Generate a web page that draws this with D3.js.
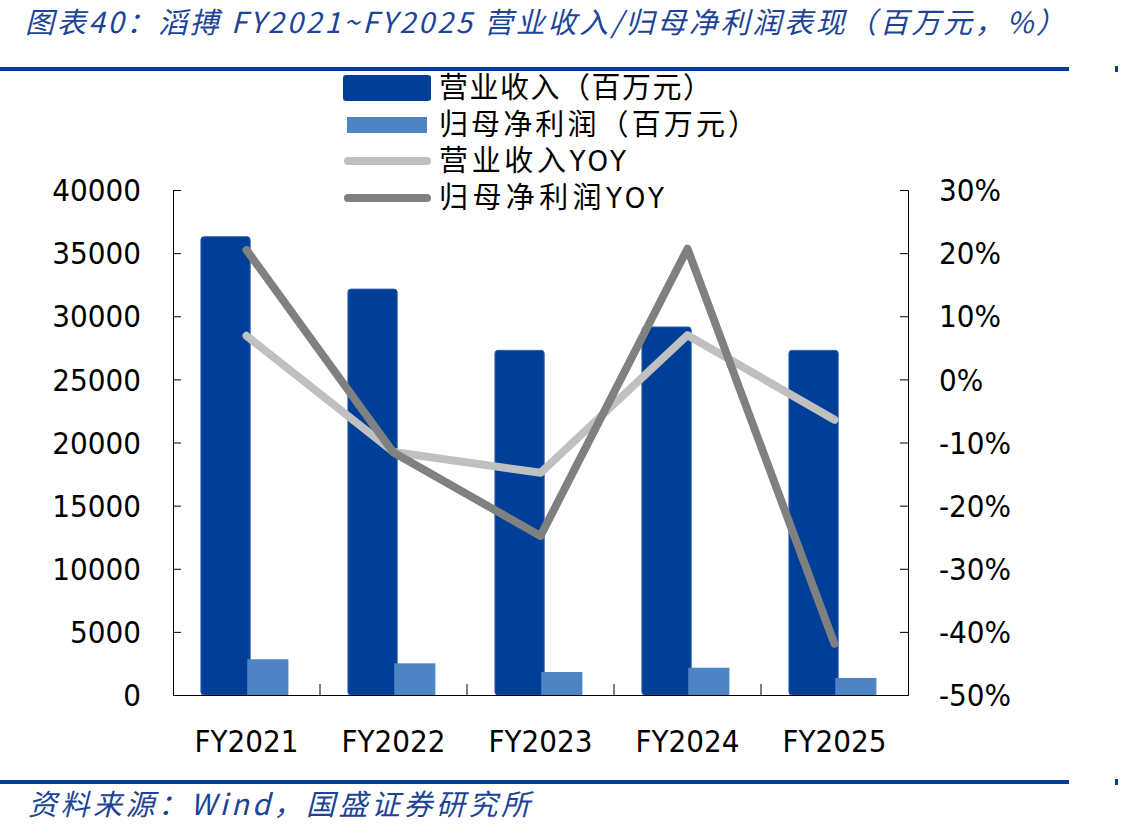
<!DOCTYPE html>
<html>
<head>
<meta charset="utf-8">
<script src="https://cdn.jsdelivr.net/npm/d3@7"></script>
<style>
  body { margin: 0; background: #fff; }
  svg { display: block; }
  .num { font-family: "DejaVu Sans Condensed", "DejaVu Sans", sans-serif; font-stretch: condensed; font-size: 31px; fill: #000; }
  .cjk { font-family: "Noto Sans CJK SC", sans-serif; }
</style>
</head>
<body>
<svg></svg>
<script>
const width = 1123;
const height = 838;

// data
const categories = ["FY2021", "FY2022", "FY2023", "FY2024", "FY2025"];
const revenue = [36300, 32150, 27300, 29150, 27300];
const netProfit = [2830, 2510, 1820, 2160, 1350];
const revenueYoy = [6.9, -11.5, -14.8, 7.0, -6.4];
const netProfitYoy = [20.5, -11.6, -24.8, 20.7, -41.9];
const leftTicks = [0, 5000, 10000, 15000, 20000, 25000, 30000, 35000, 40000];
const rightTicks = [-50, -40, -30, -20, -10, 0, 10, 20, 30];

const seriesNames = ["营业收入（百万元）", "归母净利润（百万元）", "营业收入YOY", "归母净利润YOY"];
const legendWidths = [273, 318, 187, 225];

const blue = "#003f98";
const lightBlue = "#4f84c4";
const lightGrey = "#c0c0c0";
const darkGrey = "#808080";

var svg = d3.select("svg")
  .attr("width", width)
  .attr("height", height);

// title + rules
svg.append("text")
  .attr("class", "cjk")
  .attr("x", 25)
  .attr("y", 33)
  .attr("font-size", 29)
  .attr("font-style", "italic")
  .attr("fill", "#1d4396")
  .attr("textLength", 1040)
  .attr("lengthAdjust", "spacing")
  .text("图表40：滔搏 FY2021~FY2025 营业收入/归母净利润表现（百万元，%）");

svg.append("rect").attr("x", 0).attr("y", 67).attr("width", 1069).attr("height", 4).attr("fill", blue);
svg.append("rect").attr("x", 1115).attr("y", 66).attr("width", 3).attr("height", 6).attr("fill", blue);
svg.append("rect").attr("x", 0).attr("y", 780).attr("width", 1069).attr("height", 4).attr("fill", blue);
svg.append("rect").attr("x", 1115).attr("y", 779).attr("width", 3).attr("height", 6).attr("fill", blue);

svg.append("text")
  .attr("class", "cjk")
  .attr("x", 28)
  .attr("y", 815)
  .attr("font-size", 29)
  .attr("font-style", "italic")
  .attr("fill", "#1d4396")
  .attr("textLength", 502)
  .attr("lengthAdjust", "spacing")
  .text("资料来源：Wind，国盛证券研究所");

// scales
const plot = { left: 173, right: 908, top: 190, bottom: 695 };

const x = d3.scaleBand()
  .domain(categories)
  .range([plot.left, plot.right])
  .paddingInner(0)
  .paddingOuter(0);

const yLeft = d3.scaleLinear()
  .domain([0, 40000])
  .range([plot.bottom, plot.top]);

const yRight = d3.scaleLinear()
  .domain([-50, 30])
  .range([plot.bottom, plot.top]);

const bw = x.bandwidth();

// bars
svg.append("g")
  .selectAll("rect")
  .data(categories)
  .enter().append("rect")
  .attr("x", d => x(d) + bw * 0.19)
  .attr("width", bw * 0.335)
  .attr("y", (d, i) => yLeft(revenue[i]))
  .attr("height", (d, i) => yLeft(0) - yLeft(revenue[i]))
  .attr("rx", 3)
  .attr("fill", blue)
  .attr("stroke", "#2f5fb0")
  .attr("stroke-width", 1);

svg.append("g")
  .selectAll("rect")
  .data(categories)
  .enter().append("rect")
  .attr("x", d => x(d) + bw * 0.505)
  .attr("width", bw * 0.28)
  .attr("y", (d, i) => yLeft(netProfit[i]))
  .attr("height", (d, i) => yLeft(0) - yLeft(netProfit[i]))
  .attr("fill", lightBlue);

// axes
const axisG = svg.append("g");

axisG.append("g")
  .attr("transform", "translate(" + plot.left + ",0)")
  .call(d3.axisRight(yLeft).tickValues(leftTicks).tickSize(8).tickFormat(""))
  .call(g => g.selectAll("path, line").attr("stroke", "#000"));

axisG.append("g")
  .attr("transform", "translate(" + plot.right + ",0)")
  .call(d3.axisLeft(yRight).tickValues(rightTicks).tickSize(8).tickFormat(""))
  .call(g => g.selectAll("path, line").attr("stroke", "#000"));

axisG.append("g")
  .attr("transform", "translate(0," + plot.bottom + ")")
  .call(d3.axisTop(x).tickSize(0).tickFormat(""))
  .call(g => g.select(".domain").attr("stroke", "#000"));

// category separators
axisG.append("g")
  .selectAll("line")
  .data(categories.slice(1))
  .enter().append("line")
  .attr("x1", d => x(d))
  .attr("x2", d => x(d))
  .attr("y1", plot.bottom)
  .attr("y2", plot.bottom - 11)
  .attr("stroke", "#000");

// tick labels
svg.append("g")
  .selectAll("text")
  .data(leftTicks)
  .enter().append("text")
  .attr("class", "num")
  .attr("x", 141)
  .attr("y", d => yLeft(d))
  .attr("dy", "0.36em")
  .attr("text-anchor", "end")
  .text(d => d);

svg.append("g")
  .selectAll("text")
  .data(rightTicks)
  .enter().append("text")
  .attr("class", "num")
  .attr("x", 939)
  .attr("y", d => yRight(d))
  .attr("dy", "0.36em")
  .attr("text-anchor", "start")
  .text(d => d + "%");

svg.append("g")
  .selectAll("text")
  .data(categories)
  .enter().append("text")
  .attr("class", "num")
  .attr("x", d => x(d) + bw / 2)
  .attr("y", 741)
  .attr("dy", "0.36em")
  .attr("text-anchor", "middle")
  .text(d => d);

// lines
const line = d3.line()
  .x((d, i) => x(categories[i]) + bw / 2)
  .y(d => yRight(d));

svg.append("path")
  .datum(revenueYoy)
  .attr("d", line)
  .attr("fill", "none")
  .attr("stroke", lightGrey)
  .attr("stroke-width", 8)
  .attr("stroke-linecap", "round")
  .attr("stroke-linejoin", "round");

svg.append("path")
  .datum(netProfitYoy)
  .attr("d", line)
  .attr("fill", "none")
  .attr("stroke", darkGrey)
  .attr("stroke-width", 8)
  .attr("stroke-linecap", "round")
  .attr("stroke-linejoin", "round");

// legend
const legendRows = [88, 125, 161, 198];
const lg = svg.append("g");

lg.append("rect").attr("x", 343).attr("y", 75).attr("width", 88).attr("height", 26).attr("rx", 3).attr("fill", blue);
lg.append("rect").attr("x", 347).attr("y", 117).attr("width", 80).attr("height", 16).attr("fill", lightBlue);
lg.append("line").attr("x1", 348).attr("x2", 427).attr("y1", legendRows[2]).attr("y2", legendRows[2])
  .attr("stroke", lightGrey).attr("stroke-width", 8).attr("stroke-linecap", "round");
lg.append("line").attr("x1", 348).attr("x2", 427).attr("y1", legendRows[3]).attr("y2", legendRows[3])
  .attr("stroke", darkGrey).attr("stroke-width", 8).attr("stroke-linecap", "round");

lg.selectAll("text")
  .data(seriesNames)
  .enter().append("text")
  .attr("x", 439)
  .attr("y", (d, i) => legendRows[i])
  .attr("dy", "0.36em")
  .attr("font-size", 29)
  .attr("fill", "#000")
  .attr("font-family", "'DejaVu Sans Condensed', 'Noto Sans CJK SC', sans-serif")
  .attr("font-stretch", "condensed")
  .attr("textLength", (d, i) => legendWidths[i])
  .attr("lengthAdjust", "spacing")
  .each(function (d) {
    const t = d3.select(this);
    const m = d.match(/^(.*?)(YOY)?$/);
    t.append("tspan").attr("font-family", "'Noto Sans CJK SC', sans-serif").text(m[1]);
    if (m[2]) t.append("tspan").text(m[2]);
  });
</script>
</body>
</html>
